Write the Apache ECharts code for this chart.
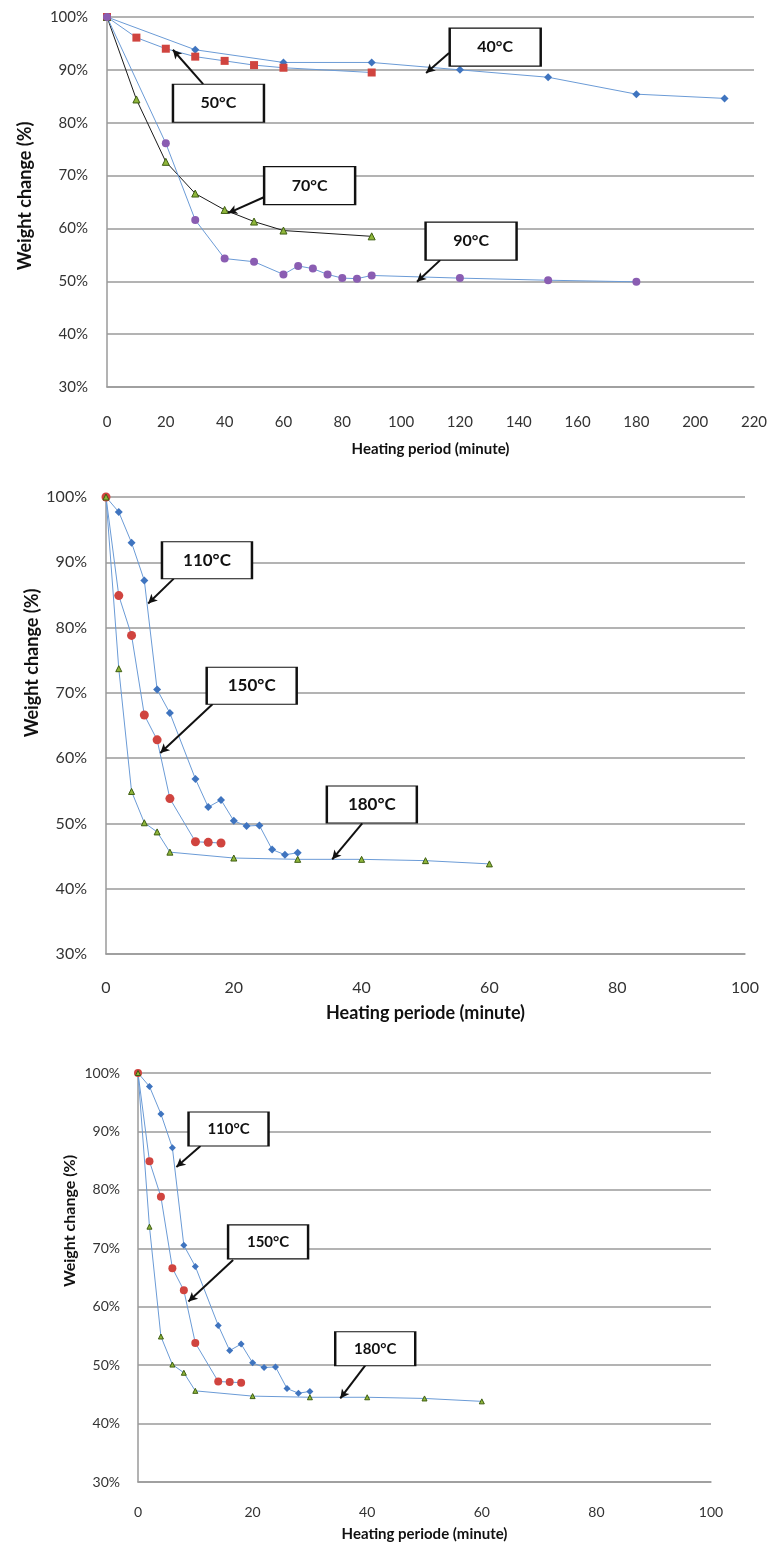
<!DOCTYPE html>
<html>
<head>
<meta charset="utf-8">
<script src="https://cdn.jsdelivr.net/npm/echarts@6/dist/echarts.min.js"></script>
<style>
  html, body { margin: 0; padding: 0; background: #fff; }
  #chart { width: 772px; height: 1549px; }
</style>
</head>
<body>
<div id="chart"></div>
<script>
// --- top chart: 40-90 C ---
const t40 = [0, 30, 60, 90, 120, 150, 180, 210];
const w40 = [100, 93.8, 91.4, 91.4, 90.0, 88.6, 85.4, 84.6];
const t50 = [0, 10, 20, 30, 40, 50, 60, 90];
const w50 = [100, 96.1, 94.0, 92.5, 91.7, 90.9, 90.4, 89.5];
const t70 = [0, 10, 20, 30, 40, 50, 60, 90];
const w70 = [100, 84.4, 72.6, 66.6, 63.5, 61.3, 59.6, 58.5];
const t90 = [0, 20, 30, 40, 50, 60, 65, 70, 75, 80, 85, 90, 120, 150, 180];
const w90 = [100, 76.1, 61.6, 54.3, 53.7, 51.3, 52.9, 52.4, 51.3, 50.6, 50.5, 51.1, 50.6, 50.2, 49.9];

// --- middle + bottom chart: 110-180 C (same data, drawn twice) ---
const t110 = [0, 2, 4, 6, 8, 10, 14, 16, 18, 20, 22, 24, 26, 28, 30];
const w110 = [100, 97.7, 93.0, 87.2, 70.5, 66.9, 56.8, 52.5, 53.6, 50.4, 49.6, 49.7, 46.0, 45.2, 45.5];
const t150 = [0, 2, 4, 6, 8, 10, 14, 16, 18];
const w150 = [100, 84.9, 78.8, 66.6, 62.8, 53.8, 47.2, 47.1, 47.0];
const t180 = [0, 2, 4, 6, 8, 10, 20, 30, 40, 50, 60];
const w180 = [100, 73.7, 54.9, 50.1, 48.7, 45.6, 44.7, 44.5, 44.5, 44.3, 43.8];

const yTicks = [30, 40, 50, 60, 70, 80, 90, 100];
const xMax1 = 220;
const xMax2 = 100;

// callout boxes, placed in data units of their own plot
const callouts1 = [
  { text: '40°C', box: [132, 94.3], from: [116.3, 93.2], to: [108.5, 89.4] },
  { text: '50°C', box: [37.9, 83.7], from: [32.7, 87.3], to: [22.4, 93.8] },
  { text: '70°C', box: [68.9, 68.1], from: [53.7, 66.0], to: [41.2, 62.9] },
  { text: '90°C', box: [123.8, 57.6], from: [113.3, 54.0], to: [105.4, 49.9] },
];
const callouts2 = [
  { text: '110°C', box: [15.8, 90.3], from: [10.6, 87.5], to: [6.6, 83.7] },
  { text: '150°C', box: [22.8, 71.1], from: [16.7, 68.3], to: [8.5, 60.8] },
  { text: '180°C', box: [41.6, 52.9], from: [40.1, 50.0], to: [35.4, 44.5] },
];
const callouts3 = [
  { text: '110°C', box: [15.8, 90.4], from: [10.9, 87.5], to: [6.7, 83.9] },
  { text: '150°C', box: [22.7, 71.1], from: [16.6, 68.0], to: [8.8, 60.9] },
  { text: '180°C', box: [41.4, 52.8], from: [39.7, 50.0], to: [35.3, 44.3] },
];

const FONT = 'Lato, "Open Sans", sans-serif';
const GRID_GRAY = '#9a9a9a';
const LINE_BLUE = '#6b9bd6';
const BLUE = '#3f74bf';
const RED = '#d0443f';
const GREEN = '#8fb63a';
const PURPLE = '#8a5db2';

const zip = (xs, ys) => xs.map((x, i) => [x, ys[i]]);

function calloutMarks(list, boxSize, fontSize) {
  return {
    markPoint: {
      silent: true,
      symbol: 'rect',
      symbolSize: boxSize,
      itemStyle: { color: '#fff', borderColor: '#111', borderWidth: 1.6, shadowBlur: 0, shadowColor: 'rgba(0,0,0,0)' },
      label: {
        show: true, position: 'inside', color: '#111',
        fontFamily: FONT, fontWeight: 'bold', fontSize,
        formatter: (p) => p.name,
      },
      data: list.map((c) => ({ name: c.text, coord: c.box })),
      z: 10,
    },
    markLine: {
      silent: true,
      symbol: ['none', 'arrow'],
      symbolSize: [7, 9],
      lineStyle: { color: '#111', width: 2, type: 'solid' },
      label: { show: false },
      data: list.map((c) => [{ coord: c.from }, { coord: c.to }]),
    },
  };
}

function lineSeries(idx, xs, ys, opts) {
  return Object.assign({
    type: 'line',
    xAxisIndex: idx,
    yAxisIndex: idx,
    data: zip(xs, ys),
    showSymbol: true,
    lineStyle: { color: LINE_BLUE, width: 1 },
    z: 3,
  }, opts);
}

function xAxisCfg(idx, max, fs, margin, name, nameFs, nameGap) {
  return {
    gridIndex: idx, type: 'value', min: 0, max, interval: 20,
    axisLine: { show: true, lineStyle: { color: GRID_GRAY, width: 1.5 } },
    axisTick: { show: false },
    splitLine: { show: false },
    axisLabel: { fontFamily: FONT, fontSize: fs, color: '#333', margin },
    name, nameLocation: 'middle', nameGap,
    nameTextStyle: { fontFamily: FONT, fontWeight: 'bold', fontSize: nameFs, color: '#111' },
  };
}

function yAxisCfg(idx, fs, margin) {
  return {
    gridIndex: idx, type: 'value', min: yTicks[0], max: yTicks[yTicks.length - 1], interval: 10,
    axisLine: { show: true, lineStyle: { color: GRID_GRAY, width: 1.5 } },
    axisTick: { show: false },
    splitLine: { show: true, lineStyle: { color: GRID_GRAY, width: 1.5 } },
    axisLabel: { fontFamily: FONT, fontSize: fs, color: '#333', margin, formatter: '{value}%' },
  };
}

function yTitle(x, y, fs) {
  return {
    type: 'text', x, y, rotation: Math.PI / 2,
    style: {
      text: 'Weight change (%)', fontFamily: FONT, fontWeight: 'bold', fontSize: fs,
      fill: '#111', align: 'center', verticalAlign: 'middle',
    },
  };
}

const chart = echarts.init(document.getElementById('chart'));

const series = [
  // top
  lineSeries(0, t40, w40, { symbol: 'diamond', symbolSize: 8, itemStyle: { color: BLUE } }),
  lineSeries(0, t50, w50, Object.assign({ symbol: 'rect', symbolSize: 8, itemStyle: { color: RED } },
    calloutMarks(callouts1, [91, 38], 16))),
  lineSeries(0, t70, w70, { symbol: 'triangle', symbolSize: 7,
    itemStyle: { color: GREEN, borderColor: '#3e5e12', borderWidth: 1 },
    lineStyle: { color: '#1a1a1a', width: 1 } }),
  lineSeries(0, t90, w90, { symbol: 'circle', symbolSize: 8, itemStyle: { color: PURPLE } }),
  // middle
  lineSeries(1, t110, w110, { symbol: 'diamond', symbolSize: 8, itemStyle: { color: BLUE } }),
  lineSeries(1, t150, w150, Object.assign({ symbol: 'circle', symbolSize: 9, itemStyle: { color: RED } },
    calloutMarks(callouts2, [90, 37], 17))),
  lineSeries(1, t180, w180, { symbol: 'triangle', symbolSize: 6,
    itemStyle: { color: GREEN, borderColor: '#3e5e12', borderWidth: 1 } }),
  // bottom
  lineSeries(2, t110, w110, { symbol: 'diamond', symbolSize: 7, itemStyle: { color: BLUE } }),
  lineSeries(2, t150, w150, Object.assign({ symbol: 'circle', symbolSize: 8, itemStyle: { color: RED } },
    calloutMarks(callouts3, [80, 34], 15))),
  lineSeries(2, t180, w180, { symbol: 'triangle', symbolSize: 5,
    itemStyle: { color: GREEN, borderColor: '#3e5e12', borderWidth: 1 } }),
];

chart.setOption({
  animation: false,
  backgroundColor: '#fff',
  grid: [
    { left: 107, top: 17, width: 647, height: 370 },
    { left: 106, top: 497, width: 639, height: 457 },
    { left: 138, top: 1073, width: 573, height: 409 },
  ],
  xAxis: [
    xAxisCfg(0, xMax1, 15, 28, 'Heating period (minute)', 15, 55),
    xAxisCfg(1, xMax2, 16, 26, 'Heating periode (minute)', 18, 50),
    xAxisCfg(2, xMax2, 14, 23, 'Heating periode (minute)', 15, 45),
  ],
  yAxis: [
    yAxisCfg(0, 15, 19),
    yAxisCfg(1, 16, 19),
    yAxisCfg(2, 14, 18),
  ],
  graphic: [
    yTitle(25, 196, 18),
    yTitle(32, 663, 18),
    yTitle(70, 1221, 16),
  ],
  series,
});
</script>
</body>
</html>
